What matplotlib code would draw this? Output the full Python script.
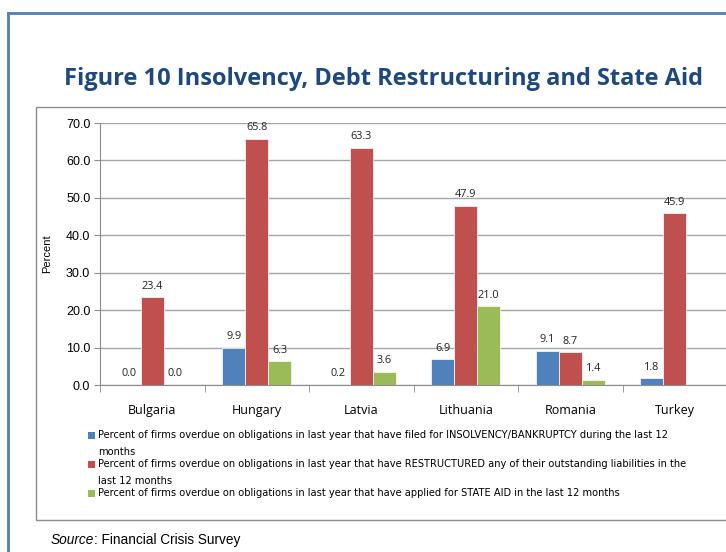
import matplotlib
matplotlib.use("Agg")
import matplotlib.pyplot as plt
import numpy as np
from matplotlib.patches import Rectangle
from matplotlib.lines import Line2D

countries = ["Bulgaria", "Hungary", "Latvia", "Lithuania", "Romania", "Turkey"]
insolvency = [0.0, 9.9, 0.2, 6.9, 9.1, 1.8]
restructured = [23.4, 65.8, 63.3, 47.9, 8.7, 45.9]
state_aid = [0.0, 6.3, 3.6, 21.0, 1.4, None]
series_labels = [
    "Percent of firms overdue on obligations in last year that have filed for INSOLVENCY/BANKRUPTCY during the last 12\nmonths",
    "Percent of firms overdue on obligations in last year that have RESTRUCTURED any of their outstanding liabilities in the\nlast 12 months",
    "Percent of firms overdue on obligations in last year that have applied for STATE AID in the last 12 months",
]
colors = ["#4F81BD", "#C0504D", "#9BBB59"]
yticks = [0, 10, 20, 30, 40, 50, 60, 70]

W, H = 726, 552
fig = plt.figure(figsize=(W / 100, H / 100), dpi=100)

def fx(px):
    return px / W

def fy(py):
    return 1 - py / H

# outer blue border
fig.add_artist(Line2D([fx(8), fx(730)], [fy(13), fy(13)], color="#4F81BD", lw=2))
fig.add_artist(Line2D([fx(8), fx(8)], [fy(13), fy(560)], color="#4F81BD", lw=2))
# gray chart frame
fig.add_artist(Rectangle((fx(36), fy(520)), fx(740) - fx(36), fy(107) - fy(520),
                         fill=False, edgecolor="#8C8C8C", lw=1))

fig.text(fx(384), fy(79), "Figure 10 Insolvency, Debt Restructuring and State Aid",
         ha="center", va="center", fontsize=17, fontweight="bold",
         color="#1F497D", family=["Open Sans", "DejaVu Sans"])

ax = fig.add_axes([fx(100), fy(385), fx(727) - fx(100), fy(123) - fy(385)])
x = np.arange(len(countries))
bw = 0.22
series = [insolvency, restructured, state_aid]
for i, (vals, c) in enumerate(zip(series, colors)):
    xs = [xi + (i - 1) * bw for xi, v in zip(x, vals) if v is not None]
    vs = [v for v in vals if v is not None]
    ax.bar(xs, vs, width=bw, color=c, edgecolor="white", linewidth=0.5, zorder=3)
    for xx, v in zip(xs, vs):
        ax.text(xx, v + 1.5, f"{v:.1f}", ha="center", va="bottom", fontsize=7.8,
                color="#222222", family=["Open Sans", "DejaVu Sans"])

ax.set_xlim(-0.5, len(countries) - 0.5)
ax.set_ylim(0, 70)
ax.set_yticks(yticks)
ax.set_yticklabels([f"{t:.1f}" for t in yticks], fontsize=9, family=["Liberation Sans", "DejaVu Sans"])
ax.yaxis.grid(True, color="#A6A6A6", lw=1, zorder=0)
ax.set_axisbelow(True)
ax.set_xticks(x)
ax.set_xticklabels(countries, fontsize=9, family=["Open Sans", "DejaVu Sans"])
ax.tick_params(axis="x", length=0, pad=14)
ax.set_xticks(np.arange(-0.5, len(countries), 1), minor=True)
ax.tick_params(axis="x", which="minor", length=5, color="#8C8C8C")
ax.tick_params(axis="y", length=4, color="#8C8C8C", pad=3)
for s in ["top", "right"]:
    ax.spines[s].set_visible(False)
for s in ["left", "bottom"]:
    ax.spines[s].set_color("#8C8C8C")
ax.set_ylabel("Percent", fontsize=8, family=["Liberation Sans", "DejaVu Sans"], labelpad=10)

# legend
leg_y = [435, 464, 493]
for lab, c, yy in zip(series_labels, colors, leg_y):
    fig.add_artist(Rectangle((fx(88), fy(yy + 3.5)), fx(7), 7 / H, color=c, lw=0))
    for k, line in enumerate(lab.split("\n")):
        fig.text(fx(98), fy(yy + 17 * k), line, ha="left", va="center", fontsize=7.1,
                 family=["Liberation Sans Narrow", "DejaVu Sans"])

src = fig.text(fx(51), fy(540), "Source", ha="left", va="center", fontsize=9.8, style="italic",
               family=["Liberation Sans", "DejaVu Sans"])
fig.canvas.draw()
bb = src.get_window_extent()
fig.text(bb.x1 / W, fy(540), ": Financial Crisis Survey", ha="left", va="center", fontsize=9.8,
         family=["Liberation Sans", "DejaVu Sans"])

fig.savefig("out.png", dpi=100)
